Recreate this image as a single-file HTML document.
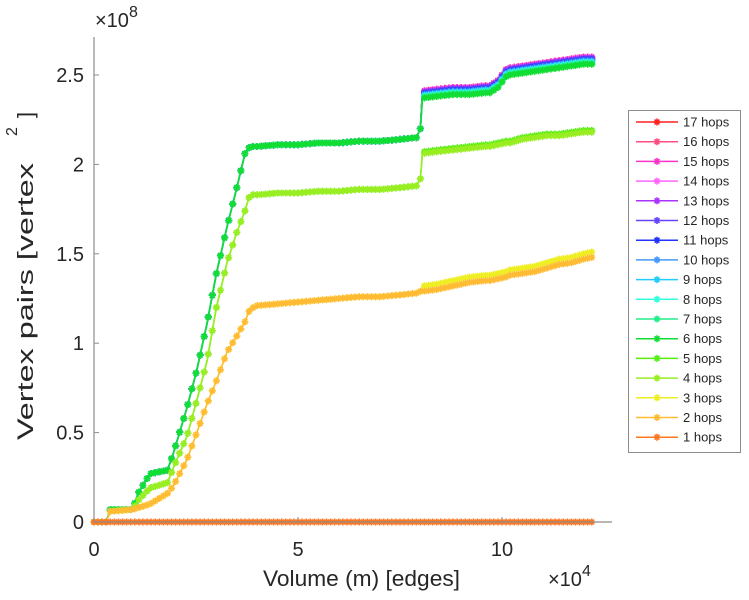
<!DOCTYPE html>
<html><head><meta charset="utf-8"><style>
body{margin:0;background:#fff;}
svg{display:block;font-family:"Liberation Sans",sans-serif;}
</style></head><body>
<svg id="chart" width="749" height="600" viewBox="0 0 749 600" xmlns="http://www.w3.org/2000/svg">
<g id="plot"></g>
<g id="axes"></g>
<g id="legend"></g>
</svg>
<script>
// x positions (edges)
const xs=[0,3000,4000,9500,10800,13700,18000,19400,22800,25200,27700,30000,32600,35000,37000,38200,40000,45000,50000,55000,60000,65000,70000,75000,79000,80000,80500,84000,88000,92000,96000,97000,99000,101000,102000,105000,108000,111000,114000,117000,120000,122000];
// values (x1e8) per group
const topVals=[0,0,0.07,0.07,0.16,0.27,0.29,0.38,0.64,0.85,1.11,1.39,1.65,1.87,2.06,2.1,2.1,2.11,2.11,2.12,2.12,2.13,2.13,2.14,2.15,2.2,2.37,2.38,2.39,2.39,2.4,2.4,2.43,2.49,2.5,2.51,2.52,2.53,2.54,2.55,2.56,2.56];
const midVals=[0,0,0.06,0.07,0.12,0.19,0.22,0.3,0.48,0.68,0.9,1.2,1.45,1.62,1.74,1.83,1.83,1.84,1.84,1.85,1.85,1.86,1.86,1.87,1.88,1.92,2.06,2.07,2.08,2.09,2.1,2.1,2.11,2.12,2.12,2.14,2.15,2.16,2.16,2.17,2.18,2.18];
const lowVals=[0,0,0.06,0.07,0.08,0.1,0.16,0.2,0.35,0.5,0.66,0.79,0.95,1.04,1.12,1.19,1.21,1.22,1.23,1.24,1.25,1.26,1.26,1.27,1.28,1.29,1.29,1.3,1.32,1.34,1.35,1.35,1.36,1.37,1.38,1.39,1.4,1.42,1.44,1.45,1.47,1.48];
const zeroVals=xs.map(()=>0);
// series (hops 1..17)
const labels=["1 hops","2 hops","3 hops","4 hops","5 hops","6 hops","7 hops","8 hops","9 hops","10 hops","11 hops","12 hops","13 hops","14 hops","15 hops","16 hops","17 hops"];
const groups=["zero","low","low","mid","mid","top","top","top","top","top","top","top","top","top","top","top","top"];
const lateOffsets=[0,0,0.03,0,0.01,0,0.005,0.01,0.015,0.02,0.025,0.03,0.035,0.035,0.04,0.04,0.04];
const colors=["#ff7722","#ffbb33","#eeee22","#99ee22","#55ee11","#11dd33","#22ee88","#33ffdd","#22ccff","#4499ff","#2233ff","#6644ff","#aa33ff","#ff66ff","#ff33cc","#ff4d80","#ff2222"];
const xTicks=[0,50000,100000], xTickLabels=["0","5","10"];
const yTicks=[0,0.5,1,1.5,2,2.5], yTickLabels=["0","0.5","1","1.5","2","2.5"];

const NS="http://www.w3.org/2000/svg";
const X0=94,X1=612,Y0=522,YT=37;
const sx=v=>X0+v*(408/100000);
const sy=v=>Y0-v*(447/2.5);
function mk(t,a,p){const e=document.createElementNS(NS,t);for(const k in a)e.setAttribute(k,a[k]);p.appendChild(e);return e;}
const G={zero:zeroVals,low:lowVals,mid:midVals,top:topVals};
const plot=document.getElementById('plot');
function star(g,x,y,c,r){
  const d=`M${x-r},${y}H${x+r}M${x},${y-r}V${y+r}M${x-r*0.7},${y-r*0.7}L${x+r*0.7},${y+r*0.7}M${x-r*0.7},${y+r*0.7}L${x+r*0.7},${y-r*0.7}`;
  mk('path',{d:d,stroke:c,'stroke-width':1.6,fill:'none'},g);
}
for(let s=16;s>=0;s--){
  const g=mk('g',{},plot);
  
  
  const vals=G[groups[s]];
  const yv=xs.map((x,i)=>vals[i]+(x>=80500?lateOffsets[s]:0));
  const pts=xs.map((x,i)=>[sx(x),sy(yv[i])]);
  mk('polyline',{points:pts.map(p=>p.join(',')).join(' '),fill:'none',stroke:colors[s],'stroke-width':1.6},g);
  // markers at uniform x steps, interpolated from data
  let j=0;
  for(let x=0;x<=xs[xs.length-1];x+=1000){
    while(j<xs.length-2&&xs[j+1]<x)j++;
    const f=(x-xs[j])/(xs[j+1]-xs[j]);
    const v=yv[j]+(yv[j+1]-yv[j])*Math.min(1,Math.max(0,f));
    star(g,sx(x),sy(v),colors[s],3.5);
  }
}
const ax=document.getElementById('axes');
mk('line',{x1:X0,y1:YT,x2:X0,y2:Y0,stroke:'#8c8c8c','stroke-width':1.2},ax);
mk('line',{x1:X0,y1:Y0,x2:X1,y2:Y0,stroke:'#8c8c8c','stroke-width':1.2},ax);
xTicks.forEach((v,i)=>{
  mk('line',{x1:sx(v),y1:Y0,x2:sx(v),y2:Y0-5,stroke:'#8c8c8c'},ax);
  const t=mk('text',{x:sx(v),y:556,'text-anchor':'middle','font-size':20,fill:'#262626'},ax);
  t.textContent=xTickLabels[i];
  
  
});
yTicks.forEach((v,i)=>{
  mk('line',{x1:X0,y1:sy(v),x2:X0+5,y2:sy(v),stroke:'#8c8c8c'},ax);
  const t=mk('text',{x:84,y:sy(v)+7,'text-anchor':'end','font-size':20,fill:'#262626'},ax);
  t.textContent=yTickLabels[i];
  
  
});
// legend
const lg=document.getElementById('legend');
mk('rect',{x:628.5,y:110.5,width:112,height:342,fill:'#fff',stroke:'#8c8c8c'},lg);
for(let k=0;k<17;k++){
  const s=16-k,y=122+k*19.7;
  const e=mk('g',{},lg);
  
  
  mk('line',{x1:636,y1:y,x2:678,y2:y,stroke:colors[s],'stroke-width':1.5},e);
  star(e,657,y,colors[s],3.5);
  const t=mk('text',{x:683,y:y+4.5,'font-size':13,fill:'#262626'},e);
  t.textContent=labels[s];
}
// titles
const svg=document.getElementById('chart');
function txt(x,y,sz,str,name,extra){const t=document.createElementNS(NS,'text');t.setAttribute('x',x);t.setAttribute('y',y);t.setAttribute('font-size',sz);t.setAttribute('fill','#262626');if(extra)for(const k in extra)t.setAttribute(k,extra[k]);t.textContent=str;


svg.appendChild(t);return t;}
const e1=txt(95,27,20,'×10','y-exponent');const sp=document.createElementNS(NS,'tspan');sp.setAttribute('font-size',16);sp.setAttribute('dy','-10');sp.textContent='8';e1.appendChild(sp);
const e2=txt(548,586,20,'×10','x-exponent');const sp2=document.createElementNS(NS,'tspan');sp2.setAttribute('font-size',16);sp2.setAttribute('dy','-10');sp2.textContent='4';e2.appendChild(sp2);
txt(263,586,22,'Volume (m) [edges]','x-axis-title',{textLength:197,lengthAdjust:'spacingAndGlyphs'});
txt(0,0,22,'Vertex pairs [vertex','y-axis-title',{transform:'translate(33,440) rotate(-90)',textLength:277,lengthAdjust:'spacingAndGlyphs'});
txt(0,0,16,'2','y-axis-title-exponent',{transform:'translate(17,136) rotate(-90)'});
txt(0,0,22,']','y-axis-title-bracket',{transform:'translate(33,118) rotate(-90)'});
</script>
</body></html>
